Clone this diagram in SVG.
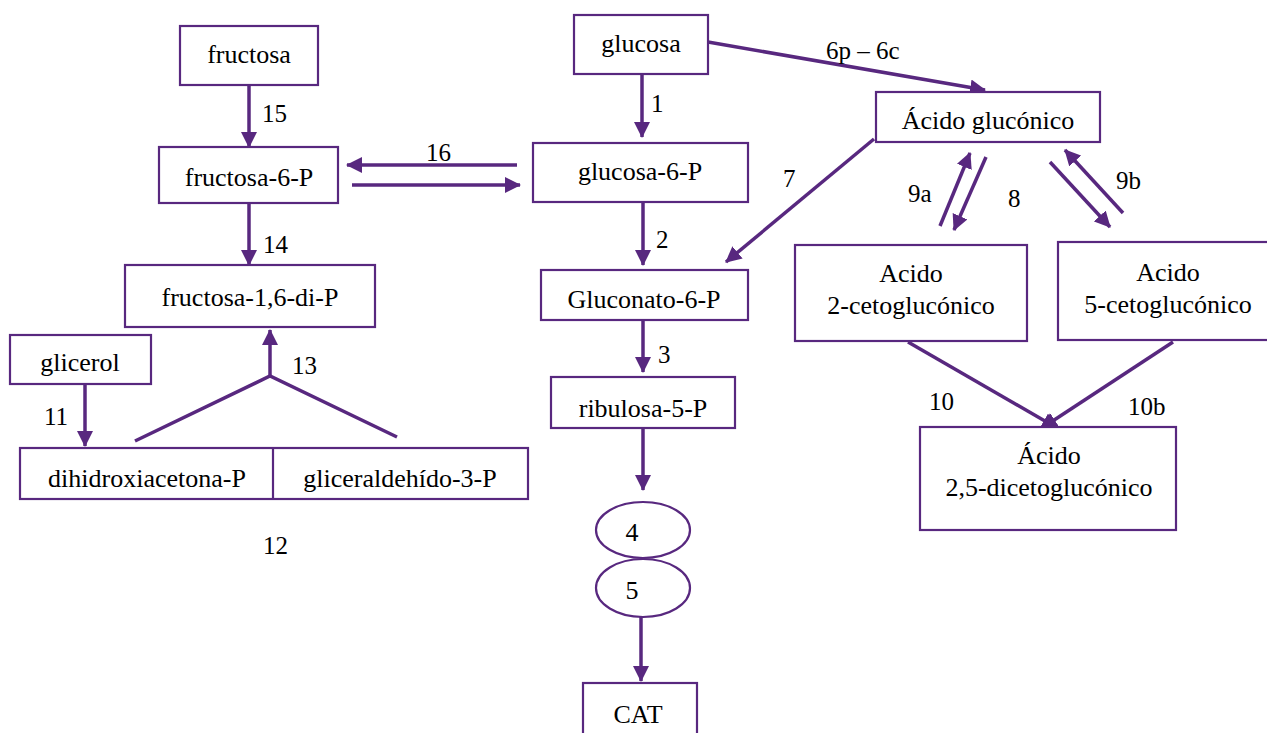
<svg xmlns="http://www.w3.org/2000/svg" width="1267" height="733" viewBox="0 0 1267 733" font-family="Liberation Serif, Times New Roman, serif">
<style>
.box{fill:#fff;stroke:#58287f;stroke-width:2.2}
text{fill:#000}
.t{font-size:26px;text-anchor:middle}
.l{font-size:25px}
.c{fill:none;stroke:#58287f;stroke-width:3.5}
.c2{fill:none;stroke:#58287f;stroke-width:3.5;marker-end:url(#ah)}
</style>
<defs>
<marker id="ah" markerUnits="userSpaceOnUse" markerWidth="16" markerHeight="16" refX="15" refY="8" orient="auto" viewBox="0 0 16 16">
<path d="M0,0 L16,8 L0,16 z" fill="#58287f"/>
</marker>
</defs>
<rect width="1267" height="733" fill="#fff"/>
<g id="connectors">
<path class="c2" d="M249,85 V147"/>
<path class="c2" d="M249,203 V265"/>
<path class="c2" d="M517,165 H347"/>
<path class="c2" d="M352,185 H520"/>
<path class="c2" d="M85,384 V446"/>
<path class="c2" d="M270,377 V330"/>
<path class="c" d="M135,441 L270,376 L397,437"/>
<path class="c2" d="M642,74 V137"/>
<path class="c2" d="M643,203 V265"/>
<path class="c2" d="M643,320 V372"/>
<path class="c2" d="M643,428 V490"/>
<path class="c2" d="M641,617 V681"/>
<path class="c2" d="M708,42 L985,90"/>
<path class="c2" d="M874,139 L726,262"/>
<path class="c2" d="M940,226 L970,153"/>
<path class="c2" d="M986,157 L954,230"/>
<path class="c2" d="M1123,213 L1065,150"/>
<path class="c2" d="M1050,162 L1110,227"/>
<path class="c2" d="M908,342 L1057,428"/>
<path class="c2" d="M1173,342 L1042,428"/>
</g>
<g id="labels">
<text class="l" x="262" y="122">15</text>
<text class="l" x="426" y="161">16</text>
<text class="l" x="263" y="253">14</text>
<text class="l" x="292" y="374">13</text>
<text class="l" x="44" y="425">11</text>
<text class="l" x="263" y="554">12</text>
<text class="l" x="651" y="112">1</text>
<text class="l" x="656" y="248">2</text>
<text class="l" x="658" y="363">3</text>
<text class="l" x="826" y="59">6p – 6c</text>
<text class="l" x="783" y="187">7</text>
<text class="l" x="908" y="202">9a</text>
<text class="l" x="1008" y="207">8</text>
<text class="l" x="1116" y="189">9b</text>
<text class="l" x="929" y="410">10</text>
<text class="l" x="1128" y="415">10b</text>
</g>
<g id="fructosa"><rect class="box" x="180" y="26" width="138" height="59"/><text class="t" x="249" y="63">fructosa</text></g>
<g id="fructosa6p"><rect class="box" x="159" y="147" width="179" height="56"/><text class="t" x="249" y="186">fructosa-6-P</text></g>
<g id="fructosa16dip"><rect class="box" x="125" y="265" width="250" height="62"/><text class="t" x="250" y="306">fructosa-1,6-di-P</text></g>
<g id="glicerol"><rect class="box" x="10" y="335" width="141" height="49"/><text class="t" x="80" y="371">glicerol</text></g>
<g id="triosas"><rect class="box" x="20" y="448" width="508" height="51"/><line class="box" x1="273" y1="448" x2="273" y2="499"/><text class="t" x="147" y="487">dihidroxiacetona-P</text><text class="t" x="400" y="487">gliceraldehído-3-P</text></g>
<g id="glucosa"><rect class="box" x="574" y="15" width="134" height="59"/><text class="t" x="641" y="52">glucosa</text></g>
<g id="glucosa6p"><rect class="box" x="533" y="143" width="215" height="59"/><text class="t" x="640" y="180">glucosa-6-P</text></g>
<g id="gluconato6p"><rect class="box" x="541" y="270" width="207" height="50"/><text class="t" x="644" y="308">Gluconato-6-P</text></g>
<g id="ribulosa5p"><rect class="box" x="551" y="377" width="184" height="51"/><text class="t" x="643" y="417">ribulosa-5-P</text></g>
<g id="n4"><ellipse class="box" cx="643" cy="530" rx="47" ry="28"/><text class="t" x="632" y="541">4</text></g>
<g id="n5"><ellipse class="box" cx="643" cy="588" rx="47" ry="29"/><text class="t" x="632" y="599">5</text></g>
<g id="cat"><rect class="box" x="583" y="683" width="114" height="60"/><text class="t" x="638" y="723">CAT</text></g>
<g id="acidogluconico"><rect class="box" x="876" y="92" width="224" height="50"/><text class="t" x="988" y="129">Ácido glucónico</text></g>
<g id="ceto2"><rect class="box" x="795" y="245" width="232" height="96"/><text class="t" x="911" y="282">Acido</text><text class="t" x="911" y="314">2-cetoglucónico</text></g>
<g id="ceto5"><rect class="box" x="1058" y="242" width="215" height="98"/><text class="t" x="1168" y="281">Acido</text><text class="t" x="1168" y="313">5-cetoglucónico</text></g>
<g id="diceto25"><rect class="box" x="920" y="427" width="256" height="103"/><text class="t" x="1049" y="464">Ácido</text><text class="t" x="1049" y="496">2,5-dicetoglucónico</text></g>
</svg>
